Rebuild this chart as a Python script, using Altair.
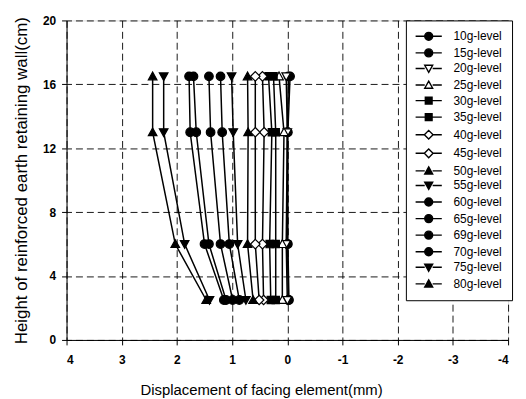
import altair as alt
import pandas as pd

heights = [16.5, 13.0, 6.0, 2.5]

series_names = ["10g-level", "15g-level", "20g-level", "25g-level", "30g-level",
                "35g-level", "40g-level", "45g-level", "50g-level", "55g-level",
                "60g-level", "65g-level", "69g-level", "70g-level", "75g-level",
                "80g-level"]

d10 = [-0.05, -0.01, -0.01, -0.03]
d15 = [-0.02, 0.00, 0.00, -0.02]
d20 = [0.02, 0.00, 0.02, 0.00]
d25 = [0.15, 0.06, 0.09, 0.09]
d30 = [0.25, 0.21, 0.21, 0.21]
d35 = [0.34, 0.28, 0.32, 0.30]
d40 = [0.45, 0.42, 0.45, 0.43]
d45 = [0.58, 0.58, 0.58, 0.51]
d50 = [0.72, 0.71, 0.72, 0.62]
d55 = [1.01, 0.98, 0.90, 0.75]
d60 = [1.21, 1.18, 1.05, 0.87]
d65 = [1.42, 1.39, 1.21, 0.99]
d69 = [1.70, 1.65, 1.42, 1.11]
d70 = [1.78, 1.76, 1.50, 1.15]
d75 = [2.24, 2.24, 1.86, 1.41]
d80 = [2.44, 2.44, 2.03, 1.47]

all_values = [d10, d15, d20, d25, d30, d35, d40, d45, d50, d55,
              d60, d65, d69, d70, d75, d80]

marker_kind = ["circle", "circle", "tri-down", "tri-up", "square", "square",
               "diamond", "diamond", "tri-up", "tri-down", "circle", "circle",
               "circle", "circle", "tri-down", "tri-up"]
marker_fill = ["black", "black", "white", "white", "black", "black",
               "white", "white", "black", "black", "black", "black",
               "black", "black", "black", "black"]
marker_stroke = ["black"] * 16

x_ticks = [4, 3, 2, 1, 0, -1, -2, -3, -4]
y_ticks = [0, 4, 8, 12, 16, 20]

paths = {
    "circle": "M-1,0A1,1 0 1,0 1,0A1,1 0 1,0 -1,0Z",
    "tri-up": "M0,-1L1,0.8L-1,0.8Z",
    "tri-down": "M0,1L1,-0.8L-1,-0.8Z",
    "square": "M-0.85,-0.85L0.85,-0.85L0.85,0.85L-0.85,0.85Z",
    "diamond": "M0,-1.1L1.1,0L0,1.1L-1.1,0Z",
}
legend_line = "M-3.3,0L-1,0M1,0L3.3,0"

rows = []
for name, vals in zip(series_names, all_values):
    for h, v in zip(heights, vals):
        rows.append({"series": name, "disp": v, "height": h})
df = pd.DataFrame(rows)

point_shapes = [paths[k] for k in marker_kind]
legend_shapes = [legend_line + paths[k] for k in marker_kind]

FONT = "Liberation Sans"

x_enc = alt.X("disp:Q", scale=alt.Scale(domain=[-4, 4], reverse=True, nice=False),
              axis=alt.Axis(values=x_ticks, labelExpr="'' + datum.value",
                            title="Displacement of facing element(mm)",
                            titleX=196, titleAnchor="start", titleAlign="center",
                            grid=True, gridDash=[7, 4], gridColor="black", gridWidth=1,
                            gridOpacity=0.9, labelFontWeight="bold", labelFontSize=12,
                            titleFontSize=15, titleFontWeight="normal", titlePadding=17,
                            labelPadding=10, tickColor="black", domainColor="black",
                            labelColor="black", titleColor="black", labelFont=FONT,
                            titleFont=FONT, tickSize=5))
y_enc = alt.Y("height:Q", scale=alt.Scale(domain=[0, 20], nice=False),
              axis=alt.Axis(values=y_ticks, title="Height of reinforced earth retaining wall(cm)",
                            grid=True, gridDash=[7, 4], gridColor="black", gridWidth=1,
                            gridOpacity=0.9, labelFontWeight="bold", labelFontSize=12,
                            titleFontSize=17, titleFontWeight="normal", titlePadding=12,
                            labelPadding=6, tickColor="black", domainColor="black",
                            labelColor="black", titleColor="black", labelFont=FONT,
                            titleFont=FONT, tickSize=5))

lines = alt.Chart(df).mark_line(color="black", strokeWidth=1.5).encode(
    x=x_enc, y=y_enc, detail="series:N", order="height:Q")

points = alt.Chart(df).mark_point(filled=True, size=75, stroke="black",
                                  strokeWidth=1.2, opacity=1).encode(
    x="disp:Q", y="height:Q",
    shape=alt.Shape("series:N", scale=alt.Scale(domain=series_names, range=point_shapes),
                    legend=None),
    fill=alt.Fill("series:N", scale=alt.Scale(domain=series_names, range=marker_fill),
                  legend=None),
)

leg = alt.Legend(title=None, orient="none", legendX=342, legendY=0,
                 strokeColor="black", fillColor="white", padding=10,
                 symbolSize=64, symbolOffset=7, labelOffset=19,
                 symbolStrokeColor="black", symbolStrokeWidth=1.4,
                 symbolOpacity=1, labelFontSize=12, labelFont=FONT,
                 labelColor="black", rowPadding=2.7)

legend_layer = alt.Chart(df).mark_point(filled=True, size=60, strokeWidth=1.4,
                                        opacity=0).encode(
    x="disp:Q", y="height:Q",
    shape=alt.Shape("series:N", scale=alt.Scale(domain=series_names, range=legend_shapes),
                    legend=leg),
    fill=alt.Fill("series:N", scale=alt.Scale(domain=series_names, range=marker_fill),
                  legend=leg),
    stroke=alt.Stroke("series:N", scale=alt.Scale(domain=series_names, range=marker_stroke),
                      legend=leg),
)

chart = alt.layer(lines, points, legend_layer).resolve_scale(
    shape="independent", fill="independent", stroke="independent"
).properties(
    width=445, height=322,
    autosize=alt.AutoSizeParams(type="none"),
    padding={"left": 59, "top": 11, "right": 10, "bottom": 57},
).configure_view(stroke="black", strokeWidth=1.2).configure(background="white")

chart.save("out.html", embed_options={"renderer": "svg", "actions": False})
